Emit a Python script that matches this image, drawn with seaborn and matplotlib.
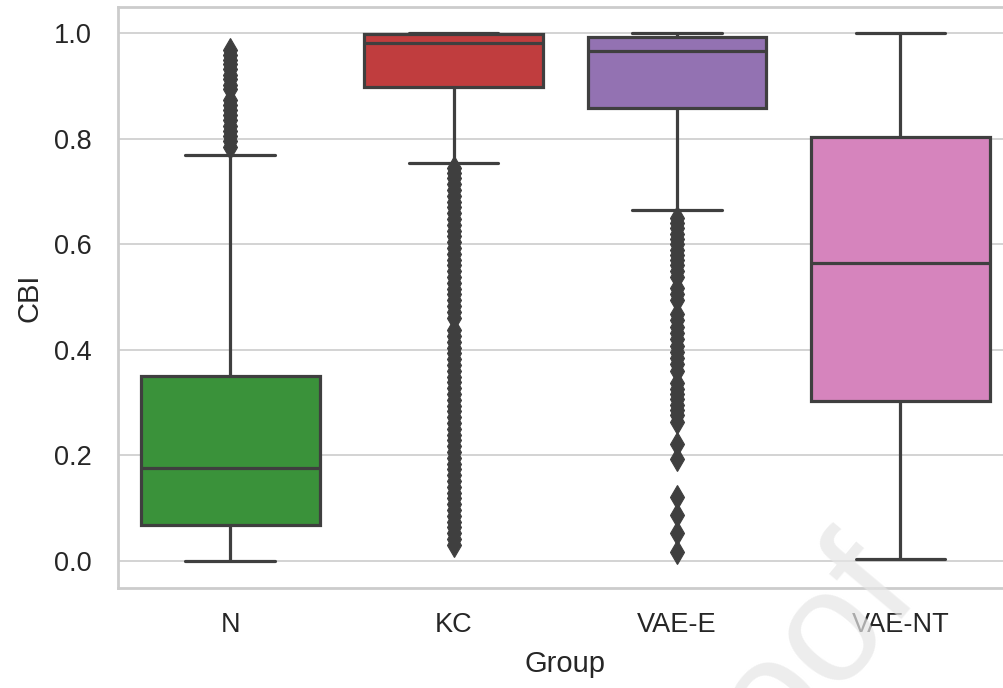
import numpy as np
import pandas as pd
import matplotlib
matplotlib.use('Agg')
import matplotlib.pyplot as plt
import seaborn as sns

# Groups and box summaries
groups = ['N', 'KC', 'VAE-E', 'VAE-NT']
colors = ['tab:green', 'tab:red', 'tab:purple', 'tab:pink']

whisker_low = [0.0, 0.754, 0.665, 0.003]
q1 = [0.0675, 0.898, 0.859, 0.302]
median = [0.175, 0.982, 0.966, 0.565]
q3 = [0.351, 0.998, 0.993, 0.804]
whisker_high = [0.769, 1.0, 1.0, 1.0]

# Outliers (estimated from the dense diamond columns)
fliers_n = [0.785, 0.795, 0.805, 0.815, 0.825, 0.835, 0.845, 0.855, 0.865,
            0.874, 0.894, 0.903, 0.913, 0.922, 0.932, 0.941, 0.950, 0.959, 0.968]
fliers_kc = [0.745, 0.735, 0.725, 0.714, 0.703, 0.692, 0.681, 0.670, 0.659,
             0.648, 0.637, 0.626, 0.615, 0.604, 0.593, 0.582, 0.571, 0.560,
             0.549, 0.538, 0.527, 0.516, 0.505, 0.494, 0.483, 0.472, 0.460,
             0.437, 0.426, 0.415, 0.404, 0.393, 0.382, 0.371, 0.360, 0.349,
             0.338, 0.327, 0.316, 0.305, 0.294, 0.283, 0.272, 0.261, 0.250,
             0.239, 0.228, 0.217, 0.206, 0.195, 0.184, 0.173, 0.162, 0.151,
             0.140, 0.129, 0.118, 0.107, 0.096, 0.085, 0.074, 0.063, 0.052,
             0.041, 0.030]
fliers_vae_e = [0.650, 0.640, 0.630, 0.620, 0.610, 0.600, 0.590, 0.580, 0.570,
                0.560, 0.549, 0.538, 0.518, 0.506, 0.494, 0.468, 0.456, 0.444,
                0.432, 0.420, 0.408, 0.396, 0.384, 0.372, 0.360, 0.336, 0.326,
                0.316, 0.306, 0.296, 0.286, 0.276, 0.262, 0.222, 0.192, 0.121,
                0.086, 0.052, 0.017]
fliers_vae_nt = []
fliers = [fliers_n, fliers_kc, fliers_vae_e, fliers_vae_nt]


def group_values(lo, a, m, b, hi, out, n=200):
    """Values whose quartiles and whiskers reproduce the read summary"""
    return [lo] + [a] * n + [m] * n + [b] * n + [hi] + list(out)


rows = []
for i, g in enumerate(groups):
    vals = group_values(whisker_low[i], q1[i], median[i], q3[i],
                        whisker_high[i], fliers[i])
    rows.append(pd.DataFrame({'Group': g, 'CBI': vals}))
df = pd.concat(rows, ignore_index=True)

sns.set_theme(style='whitegrid')
plt.rcParams['font.family'] = ['Liberation Sans', 'DejaVu Sans']
plt.rcParams['axes.edgecolor'] = '#cccccc'
plt.rcParams['axes.linewidth'] = 2.0
plt.rcParams['grid.color'] = '#cccccc'
plt.rcParams['grid.linewidth'] = 1.2

fig = plt.figure(figsize=(10.04, 6.88), dpi=100)
ax = fig.add_axes([0.118, 0.1453, 0.89, 0.8445])

line_c = '#3f3f3f'
sns.boxplot(data=df, x='Group', y='CBI', hue='Group', palette=colors,
            legend=False, width=0.8, linewidth=2.3, linecolor=line_c,
            flierprops=dict(marker='d', markersize=12, markerfacecolor=line_c,
                            markeredgecolor=line_c, markeredgewidth=0.8),
            ax=ax)

ax.set_xlim(-0.5, 3.5)
ax.set_ylim(-0.052, 1.05)
ax.set_yticks([0.0, 0.2, 0.4, 0.6, 0.8, 1.0])
ax.set_yticklabels(['0.0', '0.2', '0.4', '0.6', '0.8', '1.0'])
ax.tick_params(axis='both', labelsize=19.5, colors='#262626')
ax.tick_params(axis='x', pad=11)
ax.tick_params(axis='y', pad=13)
ax.set_xlabel('Group', fontsize=21, color='#262626', labelpad=9)
ax.set_ylabel('CBI', fontsize=21, color='#262626', labelpad=8)
ax.grid(axis='x', visible=False)

# faint journal watermark
fig.text(0.76, -0.025, 'Proof', fontsize=115, color='#e6e6e6', alpha=0.7,
         rotation=50, ha='center', va='center', zorder=0)

fig.savefig('out.png', dpi=100)
